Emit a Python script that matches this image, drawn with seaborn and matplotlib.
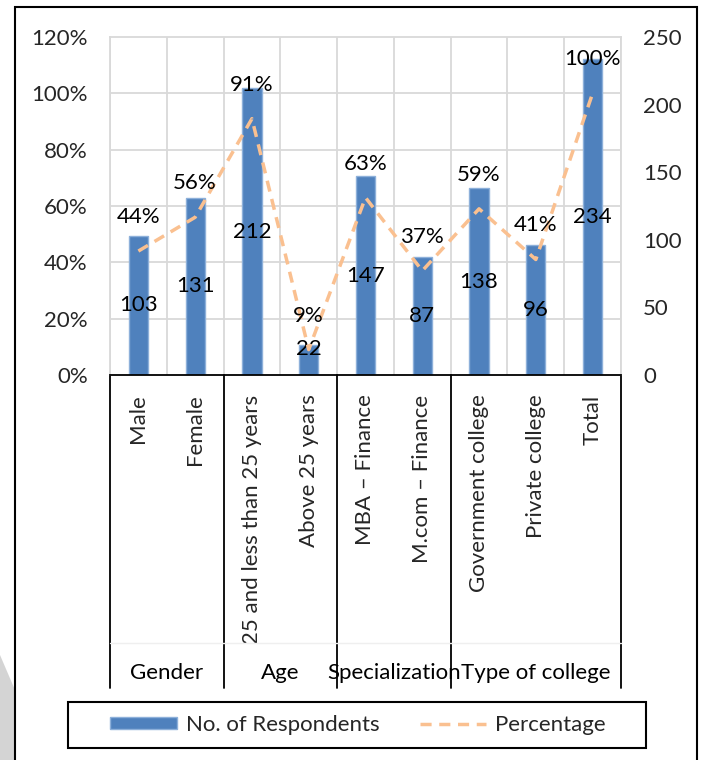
import numpy as np
import pandas as pd
import matplotlib
matplotlib.use("Agg")
import matplotlib.pyplot as plt
import seaborn as sns
from matplotlib.patches import Patch, Rectangle, Polygon
from matplotlib.lines import Line2D
from matplotlib.ticker import FixedLocator
import matplotlib.transforms as mtransforms

# ---- data ----
categories = ["Male", "Female", "25 and less than 25 years", "Above 25 years",
              "MBA \u2013 Finance", "M.com \u2013 Finance", "Government college",
              "Private college", "Total"]
respondents = [103, 131, 212, 22, 147, 87, 138, 96, 234]
percentages = [44, 56, 91, 9, 63, 37, 59, 41, 100]
groups = ["Gender", "Age", "Specialization", "Type of college"]
group_spans = [(0, 1), (2, 3), (4, 5), (6, 8)]
left_ticks = [0, 20, 40, 60, 80, 100, 120]
right_ticks = [0, 50, 100, 150, 200, 250]

sns.set_theme(style="white")
plt.rcParams["font.family"] = ["Lato", "DejaVu Sans"]
FS = 16

BAR = "#4F81BD"
LINE = "#FAC090"
GRID = "#D9D9D9"

df = pd.DataFrame({"cat": categories, "n": respondents, "pct": percentages,
                   "pos": np.arange(len(categories))})

W, H = 702, 760
fig = plt.figure(figsize=(W / 100, H / 100), dpi=100)
fig.patch.set_facecolor("white")

# outer border and corner artifact
fig.patches.append(Polygon([(0, 1 - 655 / H), (15 / W, 1 - 690 / H), (15 / W, 0), (0, 0)],
                           closed=True, transform=fig.transFigure, facecolor="#D4D4D4",
                           edgecolor="none", zorder=0))
fig.patches.append(Rectangle((15 / W, -0.01), (697 - 15) / W, 1 - 7 / H + 0.01,
                             transform=fig.transFigure, fill=False, edgecolor="black",
                             linewidth=1.5, zorder=1))

x0, x1, y0, y1 = 110, 621, 37, 375
ax = fig.add_axes([x0 / W, 1 - y1 / H, (x1 - x0) / W, (y1 - y0) / H])
ax.set_facecolor("none")

sns.barplot(data=df, x="cat", y="n", ax=ax, color=BAR, width=0.34,
            edgecolor="#8DB0DA", linewidth=1.0, saturation=1, zorder=3)
ax.set_xlim(-0.5, len(categories) - 0.5)
ax.set_ylim(0, 250)

# grid: horizontal at percentage ticks, vertical at category boundaries
ax.yaxis.set_minor_locator(FixedLocator([p / 120 * 250 for p in left_ticks]))
ax.xaxis.set_minor_locator(FixedLocator(np.arange(-0.5, len(categories), 1.0)))
ax.grid(which="minor", axis="both", color=GRID, linewidth=1.3, zorder=0)
ax.grid(which="major", visible=False)
ax.set_axisbelow(True)
ax.tick_params(which="minor", length=0)

ax.set_xticks(np.arange(len(categories)))
ax.set_xticklabels(categories, rotation=90, fontsize=FS, va="top", ha="center")
ax.tick_params(axis="x", which="major", length=0, pad=14)
ax.set_xlabel("")
ax.set_ylabel("")
for s in ["left", "right", "top"]:
    ax.spines[s].set_color(GRID)
    ax.spines[s].set_linewidth(1.3)
ax.spines["bottom"].set_color("black")
ax.spines["bottom"].set_linewidth(1.3)
ax.spines["bottom"].set_zorder(5)

# count labels in bars
for i, v in enumerate(respondents):
    ax.text(i, max(v / 2, 19), str(v), ha="center", va="center", fontsize=FS,
            color="black", zorder=6)

# line on twin axis
ax2 = ax.twinx()
sns.lineplot(data=df, x="pos", y="pct", ax=ax2, color=LINE, linewidth=2.5,
             linestyle=(0, (3.2, 2.2)), zorder=4)
ax2.set_ylim(0, 120)
ax2.set_xlim(-0.5, len(categories) - 0.5)
ax2.set_yticks(left_ticks)
ax2.set_yticklabels([f"{t}%" for t in left_ticks], fontsize=FS)
ax2.tick_params(axis="y", length=0, pad=16, left=False, right=False,
                labelleft=True, labelright=False)
ax2.set_ylabel("")
ax2.set_xlabel("")
for s in ax2.spines.values():
    s.set_visible(False)
for i, p in enumerate(percentages):
    ax2.annotate(f"{p}%", (i, p), xytext=(0, 24.5), textcoords="offset points",
                 ha="center", va="center", fontsize=FS, color="black", zorder=6)

# right axis: counts
ax.set_yticks(right_ticks)
ax.set_yticklabels([str(t) for t in right_ticks], fontsize=FS)
ax.tick_params(axis="y", which="major", length=0, pad=16, left=False, right=False,
               labelleft=False, labelright=True)
for lbl in ax.get_yticklabels(which="major"):
    lbl.set_horizontalalignment("left")

# multi-level category separators and group labels
trans = mtransforms.blended_transform_factory(ax.transData, fig.transFigure)
ybot = 1 - 688 / H
ytop = 1 - 375 / H
seps = [group_spans[0][0] - 0.5] + [e + 0.5 for (_, e) in group_spans]
for xs in seps:
    ax.add_line(Line2D([xs, xs], [ytop, ybot], transform=trans, color="black",
                       linewidth=1.3, clip_on=False))
ax.add_line(Line2D([-0.5, len(categories) - 0.5], [1 - 643 / H, 1 - 643 / H],
                   transform=trans, color="#EFEFEF", linewidth=1.0, clip_on=False))
for g, (s, e) in zip(groups, group_spans):
    ax.text((s + e) / 2, 1 - 673 / H, g, transform=trans, ha="center", va="center",
            fontsize=FS, color="black")

# legend box and legend
fig.patches.append(Rectangle((68 / W, 1 - 748 / H), (646 - 68) / W, (748 - 702) / H,
                             transform=fig.transFigure, fill=False, edgecolor="black",
                             linewidth=1.5, zorder=2))
handles = [Patch(facecolor=BAR, edgecolor="#8DB0DA"),
           Line2D([0], [0], color=LINE, linewidth=2.5, linestyle=(0, (3.2, 2.2)))]
leg = fig.legend(handles, ["No. of Respondents", "Percentage"], loc="center",
                 bbox_to_anchor=(358 / W, 1 - 725 / H),
                 ncol=2, frameon=False, fontsize=FS,
                 handlelength=3.0, handleheight=0.45, handletextpad=0.4,
                 columnspacing=1.8, borderpad=0.2)

fig.savefig("out.png", dpi=100)
